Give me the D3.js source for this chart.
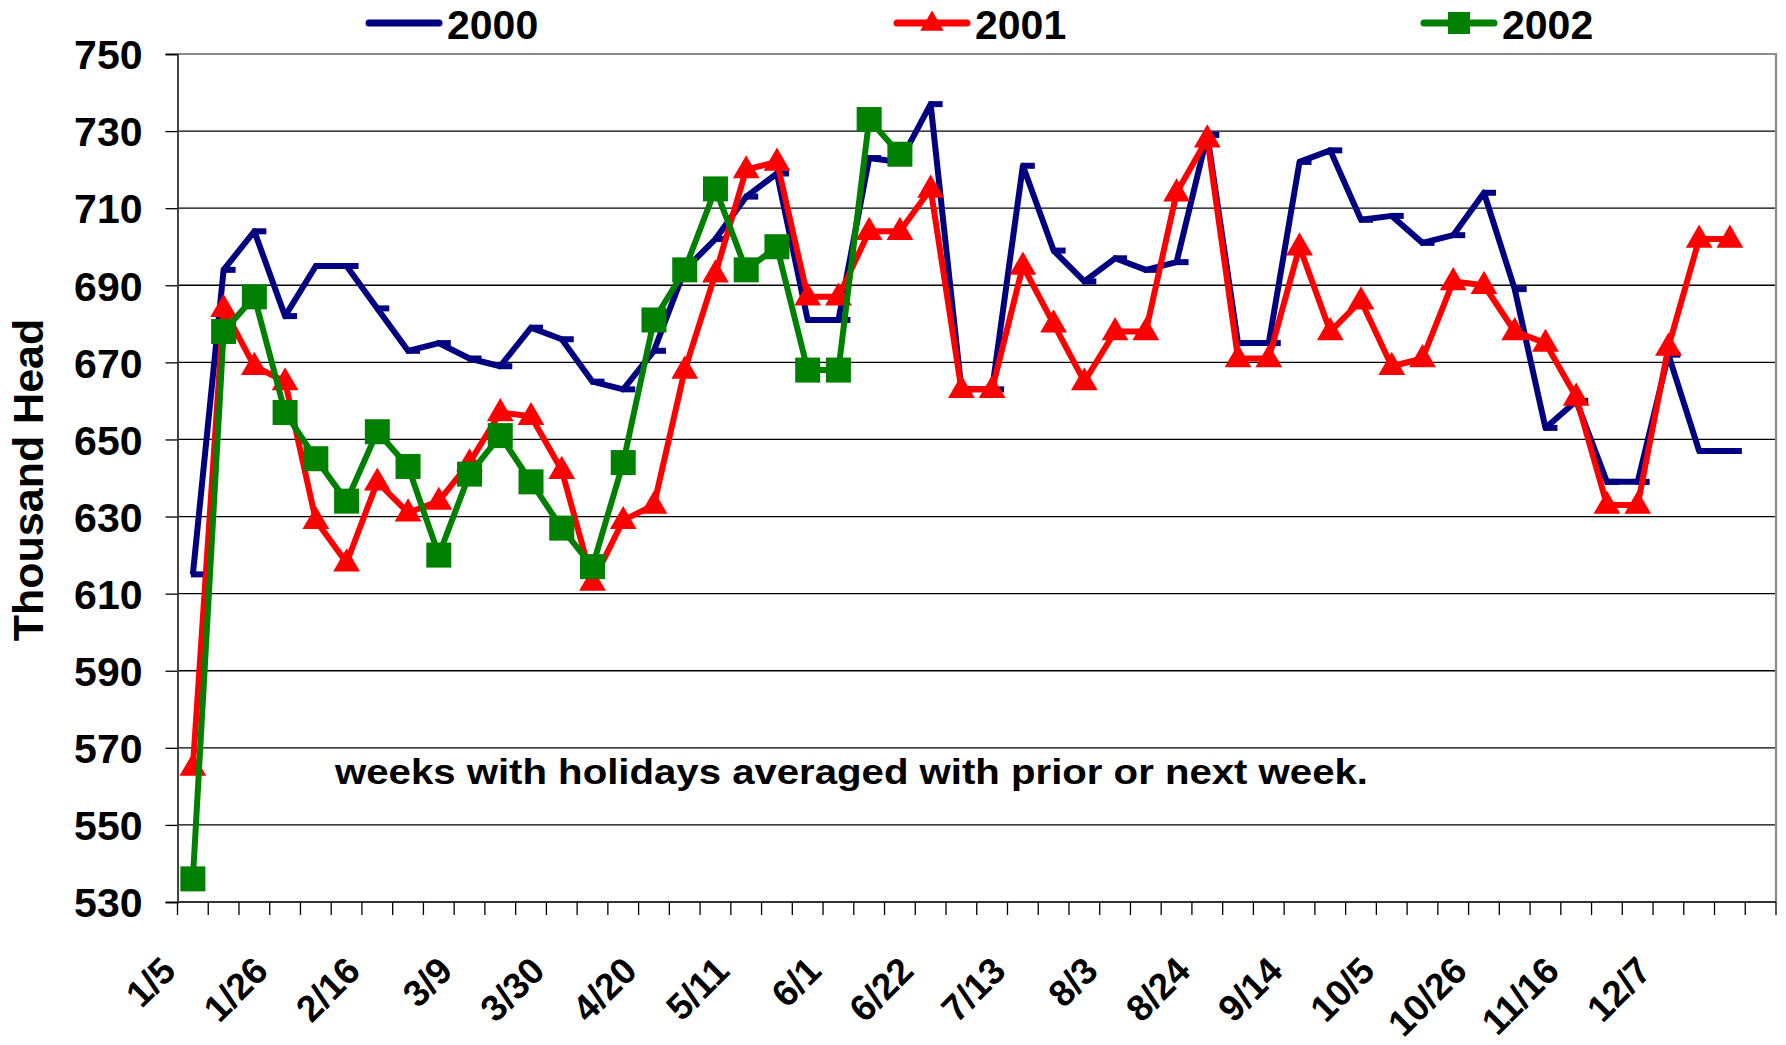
<!DOCTYPE html>
<html>
<head>
<meta charset="utf-8">
<script src="https://cdn.jsdelivr.net/npm/d3@7"></script>
<style>
  body { margin: 0; background: #fff; }
  svg text { font-family: "Liberation Sans", Arial, sans-serif; font-weight: bold; fill: #000; }
</style>
</head>
<body>
<div id="chart"></div>
<script>
// weekly slaughter, thousand head
const weeks = ["1/5","1/12","1/19","1/26","2/2","2/9","2/16","2/23","3/2","3/9","3/16","3/23","3/30",
  "4/6","4/13","4/20","4/27","5/4","5/11","5/18","5/25","6/1","6/8","6/15","6/22","6/29","7/6","7/13",
  "7/20","7/27","8/3","8/10","8/17","8/24","8/31","9/7","9/14","9/21","9/28","10/5","10/12","10/19",
  "10/26","11/2","11/9","11/16","11/23","11/30","12/7","12/14","12/21","12/28"];
const labelWeeks = ["1/5","1/26","2/16","3/9","3/30","4/20","5/11","6/1","6/22","7/13","8/3","8/24",
  "9/14","10/5","10/26","11/16","12/7"];

const y2000 = [615, 694, 704, 682, 695, 695, 684, 673, 675, 671, 669, 679, 676, 665, 663, 673, 694, 702,
  713, 719, 681, 681, 723, 722, 737, 663, 663, 721, 699, 691, 697, 694, 696, 729, 675, 675, 722, 725,
  707, 708, 701, 703, 714, 689, 653, 660, 639, 639, 672, 647, 647];
const y2001 = [565, 684, 669, 665, 629, 618, 639, 631, 634, 644, 657, 656, 642, 613, 629, 633, 668, 693,
  720, 722, 687, 687, 704, 704, 715, 663, 663, 695, 680, 665, 678, 678, 714, 728, 671, 671, 700, 678,
  686, 669, 671, 691, 690, 678, 675, 661, 633, 633, 674, 702, 702];
const y2002 = [536, 678, 687, 657, 645, 634, 652, 643, 620, 641, 651, 639, 627, 617, 644, 681, 694, 715,
  694, 700, 668, 668, 733, 724];

const yTicks = d3.range(530, 751, 20);
const note = "weeks with holidays averaged with prior or next week.";

const width = 1786, height = 1045;
const plotL = 177.5, plotR = 1776, plotT = 54, plotB = 902;

const svg = d3.select("#chart").append("svg")
  .attr("width", width)
  .attr("height", height);

const x = d3.scaleBand().domain(weeks).range([plotL, plotR]);
const y = d3.scaleLinear().domain([530, 750]).range([plotB, plotT]);
const cx = w => x(w) + x.bandwidth() / 2;

// gridlines
svg.append("g").selectAll("line")
  .data(yTicks.filter(v => v < 750 && v > 530))
  .join("line")
  .attr("x1", plotL).attr("x2", plotR)
  .attr("y1", d => y(d)).attr("y2", d => y(d))
  .attr("stroke", "#000").attr("stroke-width", 1.3);

// plot frame (top / right grey)
svg.append("path")
  .attr("d", `M${plotL},${y(750)}H${plotR}V${plotB}`)
  .attr("fill", "none").attr("stroke", "#8c8c8c").attr("stroke-width", 2.2);

// y axis
const yAxis = svg.append("g")
  .attr("transform", `translate(${plotL},0)`)
  .call(d3.axisLeft(y).tickValues(yTicks).tickSize(12).tickPadding(23));
yAxis.select(".domain").attr("stroke", "#444").attr("stroke-width", 2);
yAxis.selectAll(".tick line").attr("stroke", "#000").attr("stroke-width", 1.3);
yAxis.selectAll(".tick text").style("font-size", "41px").attr("dy", "0.36em");

// x axis line and boundary ticks
svg.append("line")
  .attr("x1", plotL).attr("x2", plotR).attr("y1", plotB).attr("y2", plotB)
  .attr("stroke", "#333").attr("stroke-width", 2.2);
svg.append("g").selectAll("line")
  .data(d3.range(weeks.length + 1))
  .join("line")
  .attr("x1", i => plotL + i * x.bandwidth())
  .attr("x2", i => plotL + i * x.bandwidth())
  .attr("y1", plotB).attr("y2", plotB + 13)
  .attr("stroke", "#000").attr("stroke-width", 1.3);

svg.append("g").selectAll("text")
  .data(labelWeeks)
  .join("text")
  .attr("transform", d => `translate(${cx(d) - 15},${plotB + 71}) rotate(-45)`)
  .attr("text-anchor", "end")
  .style("font-size", "37px")
  .text(d => d);

// axis title
svg.append("text")
  .attr("transform", `translate(43,480) rotate(-90)`)
  .attr("text-anchor", "middle")
  .style("font-size", "43px")
  .text("Thousand Head");

// note
svg.append("text")
  .attr("x", 335).attr("y", 784)
  .attr("textLength", 1033)
  .attr("lengthAdjust", "spacingAndGlyphs")
  .style("font-size", "35px")
  .text(note);

// series
const series = [
  { name: "2000", values: y2000, color: "#000080", marker: "dash" },
  { name: "2001", values: y2001, color: "#ff0000", marker: "triangle" },
  { name: "2002", values: y2002, color: "#008000", marker: "square" }
];

const line = d3.line().x(d => d.x).y(d => d.y);
const tri = d3.symbol().type(d3.symbolTriangle);

function drawMarker(g, s, px, py, big) {
  if (s.marker === "dash") {
    g.append("line")
      .attr("x1", px - 2).attr("x2", px + 12).attr("y1", py).attr("y2", py)
      .attr("stroke", s.color).attr("stroke-width", 6);
  } else if (s.marker === "triangle") {
    g.append("path")
      .attr("d", tri.size(big ? 310 : 240)())
      .attr("transform", `translate(${px},${py + 1})`)
      .attr("fill", s.color);
  } else {
    const a = big ? 25 : 22;
    g.append("rect")
      .attr("x", px - a / 2).attr("y", py - a / 2)
      .attr("width", a).attr("height", a)
      .attr("fill", s.color);
  }
}

series.forEach(s => {
  const pts = s.values.map((v, i) => ({ x: cx(weeks[i]), y: y(v) }));
  const g = svg.append("g");
  g.append("path")
    .datum(pts)
    .attr("d", line)
    .attr("fill", "none")
    .attr("stroke", s.color)
    .attr("stroke-width", 6)
    .attr("stroke-linejoin", "round");
  pts.forEach(p => drawMarker(g, s, p.x, p.y, true));
});

// legend
const legendX = [369, 897, 1424];
series.forEach((s, i) => {
  const g = svg.append("g").attr("transform", `translate(${legendX[i]},23)`);
  g.append("line")
    .attr("x1", 0).attr("x2", 70).attr("y1", 0).attr("y2", 0)
    .attr("stroke", s.color).attr("stroke-width", 7).attr("stroke-linecap", "round");
  if (s.marker !== "dash") drawMarker(g, s, 35, 0, false);
  g.append("text")
    .attr("x", 78).attr("y", 16)
    .style("font-size", "41px")
    .text(s.name);
});
</script>
</body>
</html>
